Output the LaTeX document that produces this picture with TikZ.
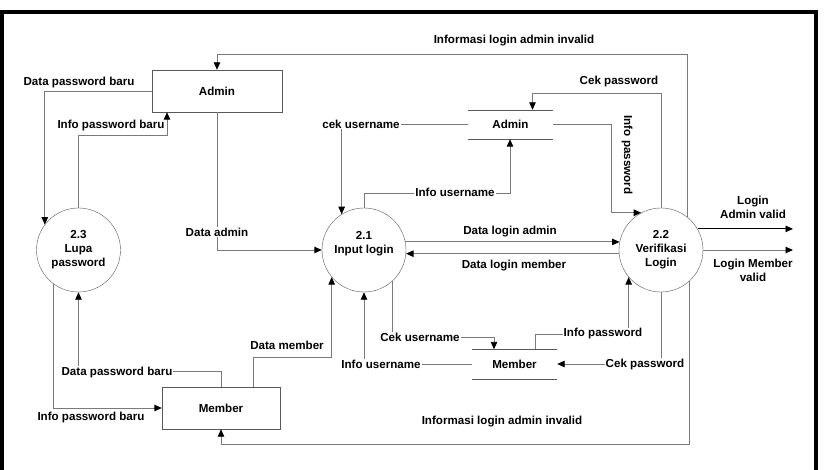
\documentclass[tikz,border=0pt]{standalone}
\usepackage{fontspec}
\setmainfont{Liberation Sans}
\usetikzlibrary{arrows.meta}
\definecolor{flowgray}{gray}{0.48}
\definecolor{edgegray}{gray}{0.35}
\tikzset{
  txt/.style={font=\bfseries\fontsize{11.6}{14}\selectfont, align=center, inner sep=1pt},
  entity/.style={txt, draw=edgegray, minimum height=42pt},
  proc/.style={txt, circle, draw=edgegray, minimum size=84pt, inner sep=0pt},
  store/.style={txt, minimum width=85pt, minimum height=29pt},
  flow/.style={draw=flowgray, line width=0.9pt, -{Triangle[length=7.5pt,width=6.5pt,color=black]}},
  plain/.style={draw=flowgray, line width=0.9pt},
  lbl/.style={txt, fill=white}
}
\begin{document}
\begin{tikzpicture}[x=1pt,y=-1pt]
\useasboundingbox (0,0) rectangle (824,470);
% frame
\draw [line width=4pt] (1.5,472) -- (1.5,12) -- (816,12) -- (816,472);

% entities, processes and stores
\node [entity, minimum width=130pt] (admin) at (217,91) {Admin};
\node [entity, minimum width=118pt] (member) at (221,408) {Member};
\node [proc] (lupa) at (78.5,250) {2.3\\Lupa\\password};
\node [proc] (input) at (364,250) {2.1\\Input login\\[2pt]};
\node [proc] (verif) at (661,250) {2.2\\Verifikasi\\Login};
\node [store] (dsadmin) at (510.5,124.5) {Admin};
\node [store] (dsmember) at (514.5,364) {Member};
\draw [edgegray] (dsadmin.north west) -- (dsadmin.north east) (dsadmin.south west) -- (dsadmin.south east);
\draw [edgegray] (dsmember.north west) -- (dsmember.north east) (dsmember.south west) -- (dsmember.south east);
\coordinate (exit) at (793,0);

% flows at the top
\draw [flow] (verif.52) |- ([yshift=15pt]admin.north) -- (admin.north);
\draw [flow] (verif.north) |- ([xshift=22pt,yshift=16pt]dsadmin.north) -- ([xshift=22pt]dsadmin.north);
\draw [flow] (dsadmin.east) -- ++(58,0) |- (verif.118);
\draw [flow] (input.north) |- ([xshift=-0.5pt,yshift=-54pt]dsadmin.south) -- ([xshift=-0.5pt]dsadmin.south);
\draw [flow] (dsadmin.west) -| (input.122);
\draw [flow] (admin.south) |- (input.west);
\draw [flow] (admin.west) -| (lupa.143);
\draw [flow] (lupa.north) |- ([xshift=-50pt,yshift=-23pt]admin.south) -- ([xshift=-50pt]admin.south);

% flows between the processes
\draw [flow] (input.11) -- (verif.169);
\draw [flow] (verif.185) -- (input.355);
\draw [flow, draw=black] (verif.30) -- (verif.30 -| exit);
\draw [flow] (verif.east) -- (verif.east -| exit);

% flows at the bottom
\draw [flow] (verif.312) |- ([yshift=-15pt]member.south) -- (member.south);
\draw [flow] ([xshift=21pt]dsmember.north) -- ++(0,-15) -| (verif.220);
\draw [flow] (verif.south) |- (dsmember.east);
\draw [flow] (input.312) |- ([xshift=-20.5pt,yshift=12pt]dsmember.north) -- ([xshift=-20.5pt]dsmember.north);
\draw [flow] (dsmember.west) -| (input.south);
\draw [flow] ([xshift=32pt]member.north) -- ++(0,-29) -| (input.220);
\draw [flow] (member.north) -- ++(0,-15) -| (lupa.south);
\draw [flow] (lupa.234) |- (member.west);

% labels
\node [lbl] (tInvalidTop) at (514,41) {Informasi login admin invalid};
\node [lbl] (tCekPassTop) at (619,82) {Cek password};
\node [lbl, rotate=-90] (tInfoPassTop) at (627,155) {Info password};
\node [lbl] (tInfoUserTop) at (455,192) {Info username};
\node [lbl] (tCekUserTop) at (361,124) {cek username};
\node [lbl] (tDataAdmin) at (217,232) {Data admin};
\node [lbl] (tDataPassTop) at (79,83) {Data password baru};
\node [lbl] (tInfoPassBaruTop) at (111,126) {Info password baru};
\node [lbl] (tLoginAdmin) at (420+333,207) {Login\\Admin valid};
\node [lbl] (tLoginMember) at (753,270) {Login Member\\valid};
\node [lbl] (tDataLoginAdmin) at (510,232) {Data login admin};
\node [lbl] (tDataLoginMember) at (514,266) {Data login member};
\node [lbl] (tInvalidBottom) at (502,422) {Informasi login admin invalid};
\node [lbl] (tInfoPassBottom) at (603,334) {Info password};
\node [lbl] (tCekPassBottom) at (645,364) {Cek password};
\node [lbl] (tCekUserBottom) at (420,337) {Cek username};
\node [lbl] (tInfoUserBottom) at (381,364) {Info username};
\node [lbl] (tDataMember) at (287,345) {Data member};
\node [lbl] (tDataPassBottom) at (117,372) {Data password baru};
\node [lbl] (tInfoPassBottom2) at (91,417) {Info password baru};
\end{tikzpicture}
\end{document}
